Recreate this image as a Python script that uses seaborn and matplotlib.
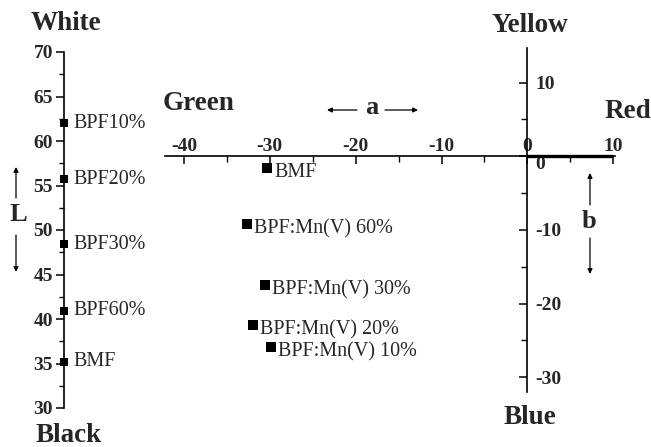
import numpy as np
import pandas as pd
import matplotlib
matplotlib.use("Agg")
import matplotlib.pyplot as plt
from matplotlib.ticker import MultipleLocator, FixedLocator
import seaborn as sns

# Lightness (L*) of the films
l_names = ["BPF10%", "BPF20%", "BPF30%", "BPF60%", "BMF"]
l_values = [62.0, 55.7, 48.4, 40.9, 35.2]

# a*, b* chromaticity of the films
ab_names = ["BMF", "BPF:Mn(V) 60%", "BPF:Mn(V) 30%", "BPF:Mn(V) 20%", "BPF:Mn(V) 10%"]
a_values = [-30.3, -32.6, -30.5, -31.9, -29.9]
b_values = [-1.6, -9.2, -17.5, -22.9, -25.9]

a_ticks = [-40, -30, -20, -10, 0, 10]
b_ticks = [10, 0, -10, -20, -30]
l_ticks = [30, 35, 40, 45, 50, 55, 60, 65, 70]

sns.set_style("white")
plt.rcParams["font.family"] = ["Liberation Serif", "DejaVu Serif"]
plt.rcParams["axes.unicode_minus"] = False

W, H = 651, 447
fig = plt.figure(figsize=(W / 100, H / 100), dpi=100)


def fpx(x, y):
    """Figure-fraction position from pixel coordinates measured from the top-left."""
    return (x / W, 1 - y / H)


tick_font = dict(size=14, weight="bold")
label_size = 14.5
head_size = 19.5

# ---------- L* scale ----------
axL = fig.add_axes([64 / W, 39 / H, 100 / W, 356 / H])
axL.set_xlim(0, 1)
axL.set_ylim(30, 70)
for side in ["top", "right", "bottom"]:
    axL.spines[side].set_visible(False)
axL.spines["left"].set_linewidth(1.2)
axL.spines["left"].set_color("black")
axL.set_xticks([])
axL.yaxis.set_major_locator(FixedLocator(l_ticks))
axL.yaxis.set_minor_locator(MultipleLocator(2.5))
axL.tick_params(axis="y", which="major", direction="out", length=6, width=1.1,
                color="black", pad=2, left=True)
axL.tick_params(axis="y", which="minor", direction="out", length=3.5, width=1.0,
                color="black", left=True)
axL.set_yticklabels([str(t) for t in l_ticks], fontdict=tick_font)

dfL = pd.DataFrame({"x": [0.0] * len(l_values), "L": l_values, "name": l_names})
sns.scatterplot(data=dfL, x="x", y="L", ax=axL, marker="s", color="black",
                s=34, edgecolor="black", linewidth=0, clip_on=False, zorder=5)
for nm, lv in zip(l_names, l_values):
    axL.annotate(nm, (0, lv), xytext=(6.5, 0), textcoords="offset points",
                 va="center", ha="left", fontsize=label_size)
axL.set_xlabel("")
axL.set_ylabel("")

# ---------- a*, b* plane ----------
axAB = fig.add_axes([165 / W, 55 / H, 450 / W, 344 / H])
axAB.set_xlim(-42.2, 10.2)
axAB.set_ylim(-32.0, 14.7)
axAB.patch.set_alpha(0)
axAB.spines["left"].set_visible(False)
axAB.spines["bottom"].set_visible(False)
axAB.spines["top"].set_position(("data", 0))
axAB.spines["right"].set_position(("data", 0))
for side in ["top", "right"]:
    axAB.spines[side].set_linewidth(1.2)
    axAB.spines[side].set_color("black")

axAB.xaxis.set_ticks_position("top")
axAB.yaxis.set_ticks_position("right")
axAB.xaxis.set_major_locator(FixedLocator(a_ticks))
axAB.xaxis.set_minor_locator(MultipleLocator(5))
axAB.yaxis.set_major_locator(FixedLocator(b_ticks))
axAB.yaxis.set_minor_locator(MultipleLocator(5))
axAB.tick_params(axis="x", which="major", direction="in", length=6, width=1.1,
                 color="black", pad=1, top=True, bottom=False)
axAB.tick_params(axis="x", which="minor", direction="in", length=4, width=1.0,
                 color="black", top=True, bottom=False)
axAB.tick_params(axis="y", which="major", direction="in", length=6, width=1.1,
                 color="black", pad=6, right=True, left=False)
axAB.tick_params(axis="y", which="minor", direction="in", length=4, width=1.0,
                 color="black", right=True, left=False)
axAB.set_xticklabels([str(t) for t in a_ticks], fontdict=tick_font)
axAB.set_yticklabels([str(t) for t in b_ticks], fontdict=tick_font)
for lab in axAB.get_yticklabels():
    if lab.get_text() == "0":
        lab.set_va("top")

# heavier stroke on the positive (red) half of the a axis
axAB.plot([0, 10], [0, 0], color="black", lw=2.4, solid_capstyle="butt",
          clip_on=False, zorder=3)

dfAB = pd.DataFrame({"a": a_values, "b": b_values, "name": ab_names})
sns.scatterplot(data=dfAB, x="a", y="b", ax=axAB, marker="s", color="black",
                s=50, edgecolor="black", linewidth=0, clip_on=False, zorder=5)
for nm, av, bv in zip(ab_names, a_values, b_values):
    axAB.annotate(nm, (av, bv), xytext=(5, -3.5), textcoords="offset points",
                  va="center", ha="left", fontsize=label_size)
axAB.set_xlabel("")
axAB.set_ylabel("")

# ---------- pole names ----------
poles = [("White", 66, 23), ("Black", 69, 435), ("Green", 199, 104),
         ("Yellow", 530, 25), ("Red", 628, 112), ("Blue", 530, 418)]
for txt, x, y in poles:
    fig.text(*fpx(x, y), txt, ha="center", va="center",
             fontsize=head_size, weight="bold")

# ---------- axis symbols with direction arrows ----------
arrow_kw = dict(arrowstyle="-|>", lw=0.9, color="black", mutation_scale=7,
                shrinkA=0, shrinkB=0)
fig.text(*fpx(18, 215), "L", ha="center", va="center", fontsize=19, weight="bold")
fig.text(*fpx(372, 108), "a", ha="center", va="center", fontsize=19, weight="bold")
fig.text(*fpx(589, 222), "b", ha="center", va="center", fontsize=19, weight="bold")
for tail, tip in [((16, 198), (16, 167)), ((16, 235), (16, 272)),
                  ((357, 110), (327, 110)), ((385, 110), (418, 110)),
                  ((590, 205), (590, 173)), ((590, 238), (590, 274))]:
    fig.add_artist(matplotlib.patches.FancyArrowPatch(
        fpx(*tail), fpx(*tip), transform=fig.transFigure, **arrow_kw))

fig.savefig("out.png", dpi=100, facecolor="white")
